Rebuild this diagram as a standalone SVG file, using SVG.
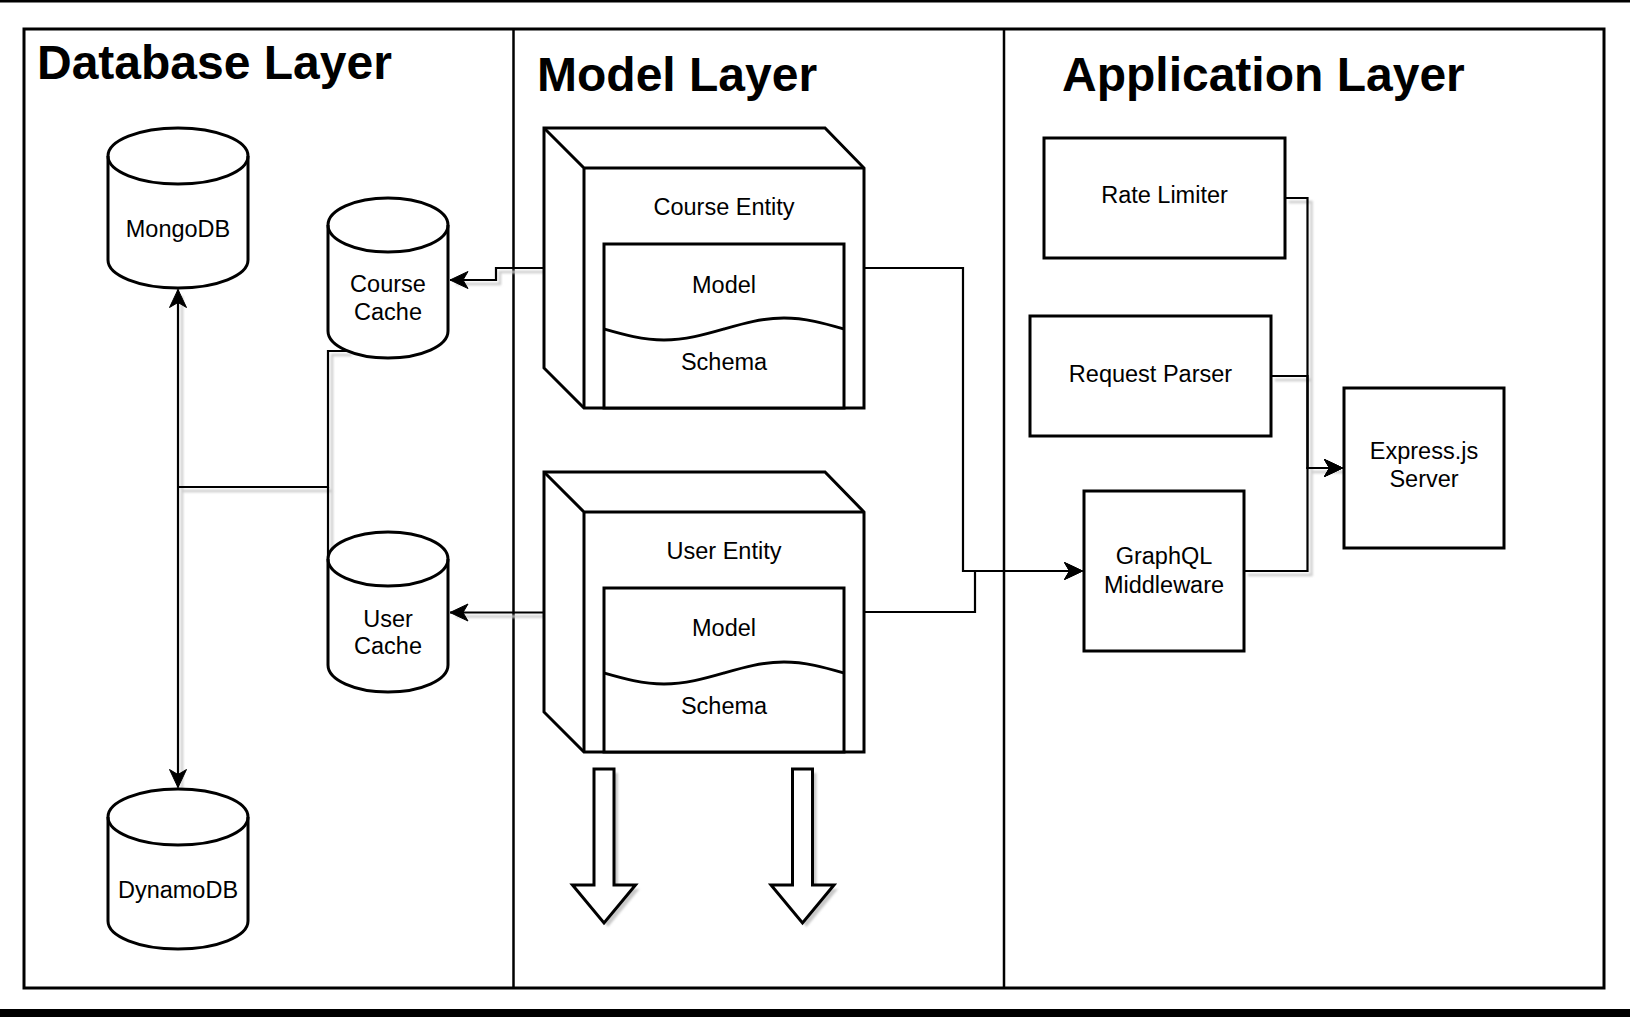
<svg xmlns="http://www.w3.org/2000/svg" width="1630" height="1017" viewBox="0 0 1630 1017">
  <style>
    .shape { fill: #ffffff; stroke: #000000; stroke-width: 3; stroke-linejoin: miter; }
    .line { fill: none; stroke: #000000; stroke-width: 3; }
    .edge { fill: none; stroke: #000000; stroke-width: 2.2; }
    .shadow { fill: none; stroke: #cccccc; stroke-width: 2.4; }
    .title { font-family: "Liberation Sans", Arial, Helvetica, sans-serif; font-weight: bold; font-size: 48px; fill: #000000; }
    .label { font-family: "Liberation Sans", Arial, Helvetica, sans-serif; font-size: 23.5px; fill: #000000; text-anchor: middle; }
  </style>
  <defs>
    <marker id="arrow" markerUnits="userSpaceOnUse" markerWidth="24" markerHeight="24" viewBox="-20 -12 22 24" refX="0" refY="0" orient="auto-start-reverse">
      <path d="M0,0 L-18,-8.5 L-13,0 L-18,8.5 Z" fill="#000000" stroke="#000000" stroke-width="1"/>
    </marker>
    <filter id="soft" x="-10%" y="-10%" width="120%" height="120%">
      <feGaussianBlur stdDeviation="0.8"/>
    </filter>
  </defs>

  <rect x="0" y="0" width="1630" height="1017" fill="#ffffff"/>
  <rect x="0" y="0" width="1630" height="2.5" fill="#000000"/>
  <rect x="0" y="1009" width="1630" height="8" fill="#000000"/>

  <g id="frame">
    <rect x="24" y="29" width="1580" height="959" fill="none" stroke="#000000" stroke-width="3"/>
    <line x1="513.5" y1="29" x2="513.5" y2="988" stroke="#000000" stroke-width="2.5"/>
    <line x1="1004" y1="29" x2="1004" y2="988" stroke="#000000" stroke-width="2.5"/>
  </g>

  <g id="titles">
    <text id="database-layer" class="title" x="37" y="79">Database Layer</text>
    <text id="model-layer" class="title" x="537" y="91">Model Layer</text>
    <text id="application-layer" class="title" x="1062" y="91">Application Layer</text>
  </g>

  <g id="connectors">
    <g id="connector-shadows" transform="translate(4,4)" filter="url(#soft)">
      <path class="shadow" d="M544,268 L496,268 L496,280 L452,280"/>
      <path class="shadow" d="M544,612.5 L452,612.5"/>
      <path class="shadow" d="M178,292 L178,786"/>
      <path class="shadow" d="M347.7,351 L328,351 L328,487 L178,487"/>
      <path class="shadow" d="M328,487 L328,559"/>
      <path class="shadow" d="M1285,198 L1307.5,198 L1307.5,571 L1244,571"/>
      <path class="shadow" d="M1271,376 L1307.5,376"/>
      <path class="shadow" d="M1307.5,468 L1340,468"/>
    </g>
    <path id="course-to-coursecache" class="edge" d="M544,268 L496,268 L496,280 L450,280" marker-end="url(#arrow)"/>
    <path id="user-to-usercache" class="edge" d="M544,612.5 L450,612.5" marker-end="url(#arrow)"/>
    <path id="mongodb-dynamodb" class="edge" d="M178,289.5 L178,787.5" marker-start="url(#arrow)" marker-end="url(#arrow)"/>
    <path id="coursecache-to-bus" class="edge" d="M347.7,351 L328,351 L328,487 L178,487"/>
    <path id="usercache-to-bus" class="edge" d="M328,559 L328,487"/>
    <path id="course-to-graphql" class="edge" d="M864,268 L963,268 L963,571 L1082.5,571" marker-end="url(#arrow)"/>
    <path id="user-to-graphql" class="edge" d="M864,612 L975,612 L975,571 L1082.5,571" marker-end="url(#arrow)"/>
    <path id="ratelimiter-to-express" class="edge" d="M1285,198 L1307.5,198 L1307.5,468 L1342.5,468" marker-end="url(#arrow)"/>
    <path id="requestparser-to-express" class="edge" d="M1271,376 L1307.5,376 L1307.5,468 L1342.5,468" marker-end="url(#arrow)"/>
    <path id="graphql-to-express" class="edge" d="M1244,571 L1307.5,571 L1307.5,468 L1342.5,468" marker-end="url(#arrow)"/>
  </g>

  <g id="mongodb">
    <path class="shape" d="M108,156 A70,28 0 0 1 248,156 L248,260 A70,28 0 0 1 108,260 Z"/>
    <path class="line" d="M108,156 A70,28 0 0 0 248,156"/>
    <text class="label" x="178" y="237">MongoDB</text>
  </g>

  <g id="course-cache">
    <path class="shape" d="M328,225 A60,27 0 0 1 448,225 L448,331 A60,27 0 0 1 328,331 Z"/>
    <path class="line" d="M328,225 A60,27 0 0 0 448,225"/>
    <text class="label" x="388" y="292">Course</text>
    <text class="label" x="388" y="320">Cache</text>
  </g>

  <g id="user-cache">
    <path class="shape" d="M328,559 A60,27 0 0 1 448,559 L448,665 A60,27 0 0 1 328,665 Z"/>
    <path class="line" d="M328,559 A60,27 0 0 0 448,559"/>
    <text class="label" x="388" y="626.5">User</text>
    <text class="label" x="388" y="654">Cache</text>
  </g>

  <g id="dynamodb">
    <path class="shape" d="M108,817 A70,28 0 0 1 248,817 L248,921 A70,28 0 0 1 108,921 Z"/>
    <path class="line" d="M108,817 A70,28 0 0 0 248,817"/>
    <text class="label" x="178" y="898">DynamoDB</text>
  </g>

  <g id="course-entity">
    <path class="shape" d="M544,128 L825,128 L864,168 L864,408 L584,408 L544,368 Z"/>
    <path class="line" d="M544,128 L584,168 L864,168 M584,168 L584,408"/>
    <text class="label" x="724" y="215">Course Entity</text>
    <rect class="shape" x="604" y="244" width="240" height="164"/>
    <path class="line" d="M604,329 C623.6,334.6 642.3,340 664,340 C685.7,340 704.4,334.6 724,329 C743.6,323.4 762.3,318 784,318 C805.7,318 824.4,323.4 844,329"/>
    <text class="label" x="724" y="292.5">Model</text>
    <text class="label" x="724" y="370">Schema</text>
  </g>

  <g id="user-entity">
    <path class="shape" d="M544,472 L825,472 L864,512 L864,752 L584,752 L544,712 Z"/>
    <path class="line" d="M544,472 L584,512 L864,512 M584,512 L584,752"/>
    <text class="label" x="724" y="559">User Entity</text>
    <rect class="shape" x="604" y="588" width="240" height="164"/>
    <path class="line" d="M604,673 C623.6,678.6 642.3,684 664,684 C685.7,684 704.4,678.6 724,673 C743.6,667.4 762.3,662 784,662 C805.7,662 824.4,667.4 844,673"/>
    <text class="label" x="724" y="636">Model</text>
    <text class="label" x="724" y="714">Schema</text>
  </g>

  <g id="block-arrow-left">
    <polygon points="598,773 618,773 618,889 639.5,889 608,927 576.5,889 598,889" fill="#c8c8c8" filter="url(#soft)"/>
    <polygon class="shape" stroke-width="2.6" points="594,769 614,769 614,885 635.5,885 604,923 572.5,885 594,885"/>
  </g>
  <g id="block-arrow-right">
    <polygon points="796.5,773 816.5,773 816.5,889 838,889 806.5,927 775,889 796.5,889" fill="#c8c8c8" filter="url(#soft)"/>
    <polygon class="shape" stroke-width="2.6" points="792.5,769 812.5,769 812.5,885 834,885 802.5,923 771,885 792.5,885"/>
  </g>

  <g id="rate-limiter">
    <rect class="shape" x="1044" y="138" width="241" height="120"/>
    <text class="label" x="1164.5" y="203">Rate Limiter</text>
  </g>

  <g id="request-parser">
    <rect class="shape" x="1030" y="316" width="241" height="120"/>
    <text class="label" x="1150.5" y="382">Request Parser</text>
  </g>

  <g id="graphql-middleware">
    <rect class="shape" x="1084" y="491" width="160" height="160"/>
    <text class="label" x="1164" y="564">GraphQL</text>
    <text class="label" x="1164" y="592.5">Middleware</text>
  </g>

  <g id="express-server">
    <rect class="shape" x="1344" y="388" width="160" height="160"/>
    <text class="label" x="1424" y="459">Express.js</text>
    <text class="label" x="1424" y="487">Server</text>
  </g>
</svg>
